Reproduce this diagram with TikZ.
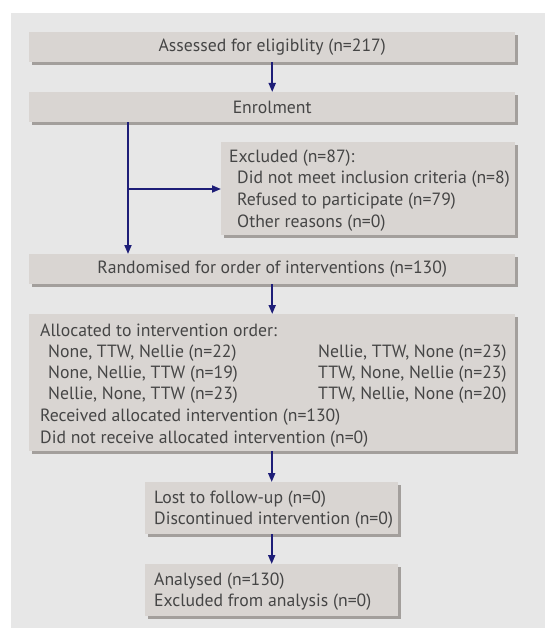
\documentclass[tikz,border=0pt]{standalone}
\usepackage{fontspec}
\setmainfont{PT Sans}
\usetikzlibrary{arrows.meta,shadows}
\definecolor{panel}{HTML}{E7E7E7}
\definecolor{boxfill}{HTML}{D9D5D2}
\definecolor{shade}{HTML}{A39F9C}
\definecolor{navy}{HTML}{1E1E78}
\definecolor{txt}{HTML}{454545}
\tikzset{
  box/.style={fill=boxfill, anchor=north west, inner sep=0pt, text=txt,
    drop shadow={shadow xshift=3pt, shadow yshift=-3pt, fill=shade, opacity=1}},
  lbl/.style={anchor=base west, inner sep=0pt, text=txt},
  conn/.style={draw=navy, line width=1.8pt, -{Triangle[length=9pt,width=7pt]}},
}
\begin{document}
\begin{tikzpicture}[x=1pt,y=-1pt,font=\fontsize{17.7}{20}\selectfont]
\useasboundingbox (0,0) rectangle (545,628);
\fill[panel] (11,13) rectangle (545,628);
\node[box, minimum width=486pt, minimum height=30pt] (b1) at (29,32) {Assessed for eligiblity (n=217)};
\node[box, minimum width=486pt, minimum height=30pt] (b2) at (29,92) {Enrolment};
\node[box, minimum width=294pt, minimum height=93pt] (ex) at (221,142) {};
\node[box, minimum width=486pt, minimum height=30pt] (b3) at (29,254) {Randomised for order of interventions (n=130)};
\node[box, minimum width=486pt, minimum height=137pt] (al) at (29,314) {};
\node[box, minimum width=253pt, minimum height=52pt] (lo) at (145,482) {};
\node[box, minimum width=253pt, minimum height=52pt] (an) at (145,564) {};
% texts
\node[lbl] (e1) at (229,163) {Excluded (n=87):};
\node[lbl] (e2) at (237,184) {Did not meet inclusion criteria (n=8)};
\node[lbl] (e3) at (237,205.5) {Refused to participate (n=79)};
\node[lbl] (e4) at (237,227) {Other reasons (n=0)};
\node[lbl] (a1) at (40,336) {Allocated to intervention order:};
\node[lbl] (a2) at (48,357) {None, TTW, Nellie (n=22)};
\node[lbl] (a3) at (48,378) {None, Nellie, TTW (n=19)};
\node[lbl] (a4) at (48,399.5) {Nellie, None, TTW (n=23)};
\node[lbl] (a5) at (318,357) {Nellie, TTW, None (n=23)};
\node[lbl] (a6) at (318,378) {TTW, None, Nellie (n=23)};
\node[lbl] (a7) at (318,399.5) {TTW, Nellie, None (n=20)};
\node[lbl] (a8) at (40,421) {Received allocated intervention (n=130)};
\node[lbl] (a9) at (40,443) {Did not receive allocated intervention (n=0)};
\node[lbl] (l1) at (154,503) {Lost to follow-up (n=0)};
\node[lbl] (l2) at (154,524) {Discontinued intervention (n=0)};
\node[lbl] (n1) at (154,585) {Analysed (n=130)};
\node[lbl] (n2) at (154,606) {Excluded from analysis (n=0)};
% connectors
\coordinate (j) at (128,189);
\draw[conn] (b1) -- (b2);
\draw[conn] (b2.south -| j) -- (b3.north -| j);
\draw[conn] (j) -- (ex.west |- j);
\draw[conn] (b3) -- (al);
\draw[conn] (al.south -| lo.north) -- (lo.north);
\draw[conn] (lo) -- (an);
\end{tikzpicture}
\end{document}
